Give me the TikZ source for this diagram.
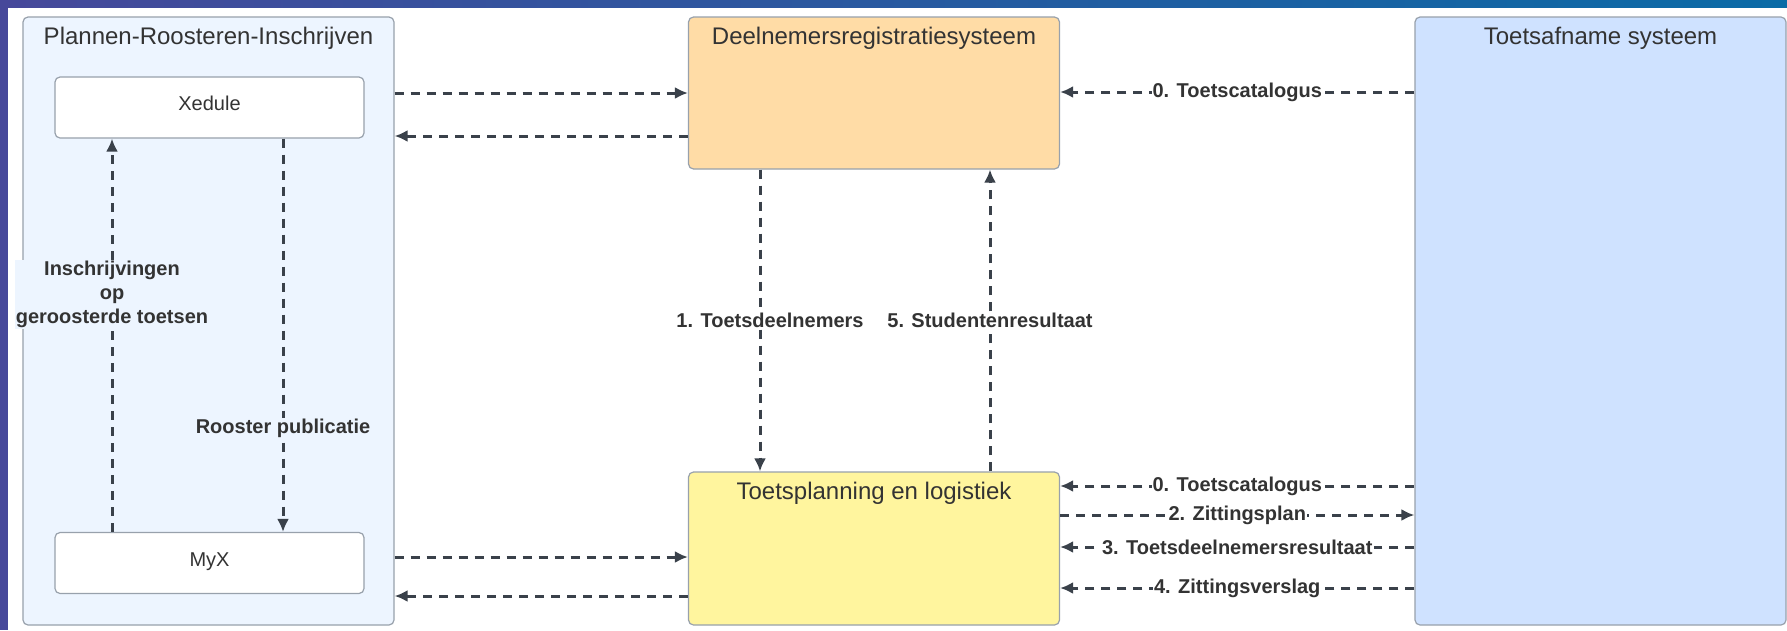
\documentclass[tikz,border=0pt]{standalone}
\usepackage{fontspec}
\setmainfont{Liberation Sans}
\usetikzlibrary{arrows.meta,positioning}
\definecolor{ink}{HTML}{3A414A}
\definecolor{txt}{HTML}{333333}
\definecolor{rim}{HTML}{98A1AC}
\definecolor{prsfill}{HTML}{EDF5FF}
\definecolor{drfill}{HTML}{FFDCA6}
\definecolor{tlfill}{HTML}{FFF59E}
\definecolor{tsfill}{HTML}{CFE2FF}
\definecolor{barL}{HTML}{46489A}
\definecolor{barR}{HTML}{0A6BA6}
\tikzset{
  sysbox/.style={draw=rim, line width=1.2pt, rounded corners=5pt, minimum width=371pt, inner sep=0pt},
  appbox/.style={draw=rim, line width=1.2pt, fill=white, rounded corners=5pt,
    minimum width=309pt, minimum height=61pt, text height=14.4pt, text depth=8pt,
    text=txt, font=\fontsize{20}{24}\selectfont},
  ttl/.style={text=txt, font=\fontsize{24}{28}\selectfont},
  flow/.style={draw=ink, line width=3pt, dash pattern=on 9pt off 7pt,
    -{Latex[length=13pt,width=12pt]}},
  lbl/.style={text=txt, font=\bfseries\fontsize{20}{24}\selectfont, fill=white, inner sep=1pt, align=center},
}
\begin{document}
\begin{tikzpicture}[x=1pt,y=-1pt]
  \useasboundingbox (0,0) rectangle (1787,630);
  \fill[white] (0,0) rectangle (1787,630);
  \fill[barL] (0,0) rectangle (8,630);
  \shade[left color=barL, right color=barR] (0,0) rectangle (1787,7);

  % systems
  \node[sysbox, fill=prsfill, minimum height=608pt] (prs) at (208.5,321) {};
  \node[sysbox, fill=drfill, minimum height=152pt] (dr) at (874,93) {};
  \node[sysbox, fill=tlfill, minimum height=153pt] (tl) at (874,548.5) {};
  \node[sysbox, fill=tsfill, minimum height=608pt] (ts) at (1600.5,321) {};
  \node[ttl] (prsT) at ([yshift=-22pt]prs.north) {Plannen-Roosteren-Inschrijven};
  \node[ttl] (drT) at ([yshift=-22pt]dr.north) {Deelnemersregistratiesysteem};
  \node[ttl] (tlT) at ([yshift=-22pt]tl.north) {Toetsplanning en logistiek};
  \node[ttl] (tsT) at ([yshift=-22pt]ts.north) {Toetsafname systeem};

  \node[appbox] (xed) at (209.5,107.5) {Xedule};
  \node[appbox] (myx) at (209.5,563) {MyX};

  % flows inside Plannen-Roosteren-Inschrijven
  \draw[flow] (myx.north -| 112,0) -- node[lbl, fill=prsfill, pos=.604]
    {Inschrijvingen\\op\\geroosterde toetsen} (xed.south -| 112,0);
  \draw[flow] (xed.south -| 283,0) -- node[lbl, fill=prsfill, pos=.736]
    {Rooster publicatie} (myx.north -| 283,0);

  \draw[flow] (prs.east |- 0,93) -- (dr.west |- 0,93);
  \draw[flow] (dr.west |- 0,136) -- (prs.east |- 0,136);
  \draw[flow] (prs.east |- 0,557) -- (tl.west |- 0,557);
  \draw[flow] (tl.west |- 0,596) -- (prs.east |- 0,596);

  \draw[flow] (dr.south -| 760,0) -- node[lbl, xshift=10pt] {1. Toetsdeelnemers} (tl.north -| 760,0);
  \draw[flow] (tl.north -| 990,0) -- node[lbl] {5. Studentenresultaat} (dr.south -| 990,0);

  \draw[flow] (ts.west |- 0,92) -- node[lbl] {0. Toetscatalogus} (dr.east |- 0,92);
  \foreach \yy/\s/\e/\lab in {486/ts.west/tl.east/0. Toetscatalogus,
      515/tl.east/ts.west/2. Zittingsplan,
      547/ts.west/tl.east/3. Toetsdeelnemersresultaat,
      588/ts.west/tl.east/4. Zittingsverslag} {
    \draw[flow] (\s |- 0,\yy) -- node[lbl] {\lab} (\e |- 0,\yy);
  }
\end{tikzpicture}
\end{document}
